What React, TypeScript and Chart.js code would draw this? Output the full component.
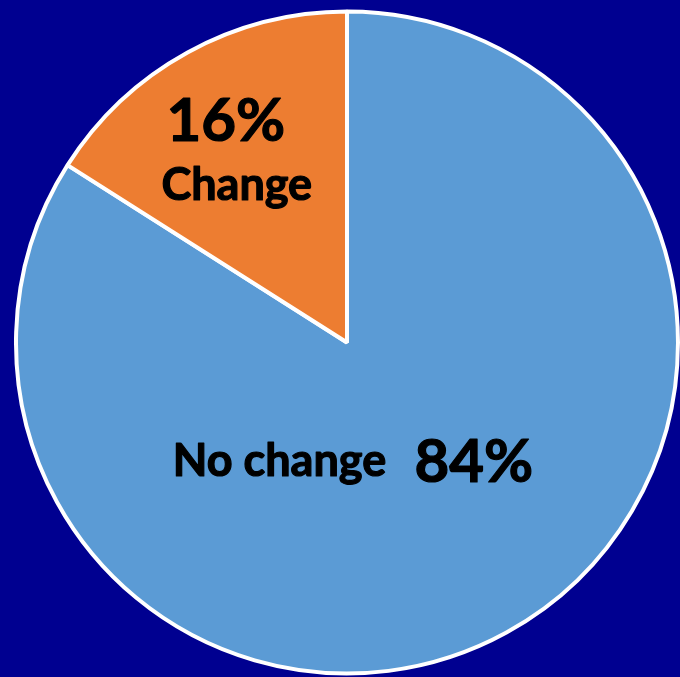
import React, { useEffect, useRef } from "react";
import { Chart, registerables } from "chart.js";

Chart.register(...registerables);

const categories = ["No change", "Change"];
const values = [84, 16];
const valueLabels = ["84%", "16%"];
const colors = ["#5B9BD5", "#ED7D31"];

const labelPlugin = {
  id: "sliceLabels",
  afterDatasetsDraw(chart: any) {
    const meta = chart.getDatasetMeta(0);
    const arc = meta.data[0];
    if (!arc) return;
    const cx = arc.x;
    const cy = arc.y;
    const r = arc.outerRadius;
    const ctx = chart.ctx;
    ctx.save();
    ctx.fillStyle = "#000000";
    ctx.strokeStyle = "#000000";
    ctx.lineWidth = 1.2;
    ctx.lineJoin = "round";
    ctx.textBaseline = "alphabetic";
    ctx.textAlign = "center";
    const draw = (text: string, dx: number, dy: number, size: number) => {
      ctx.font = `bold ${size}px Lato`;
      const x = cx + dx * r;
      const y = cy + dy * r;
      ctx.fillText(text, x, y);
      ctx.strokeText(text, x, y);
    };
    // Change slice
    draw(valueLabels[1], -0.366, -0.608, 60);
    draw(categories[1], -0.333, -0.431, 45);
    // No change slice
    draw(categories[0], -0.204, 0.404, 45);
    draw(valueLabels[0], 0.383, 0.422, 60);
    ctx.restore();
  },
};

export default function App() {
  const ref = useRef<HTMLCanvasElement | null>(null);
  useEffect(() => {
    document.body.style.margin = "0";
    document.body.style.background = "#000090";
    if (!ref.current) return;
    const chart = new Chart(ref.current, {
      type: "pie",
      data: {
        labels: categories,
        datasets: [
          {
            data: values,
            backgroundColor: colors,
            borderColor: "#FFFFFF",
            borderWidth: 4,
          },
        ],
      },
      options: {
        animation: false,
        responsive: false,
        layout: { padding: { left: 14, right: 0, top: 9, bottom: 1 } },
        plugins: {
          legend: { display: false },
          tooltip: { enabled: false },
        },
      },
      plugins: [labelPlugin],
    });
    return () => chart.destroy();
  }, []);
  return (
    <div style={{ position: "absolute", left: 0, top: 0, width: 680, height: 677, background: "#000090" }}>
      <canvas ref={ref} width={680} height={677} style={{ display: "block" }} />
    </div>
  );
}
